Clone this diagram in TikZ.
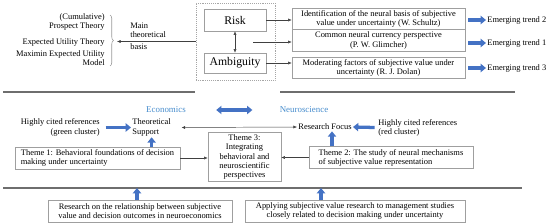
\documentclass[tikz,border=0pt]{standalone}
\usepackage{fontspec}
\setmainfont{Liberation Serif}
\usetikzlibrary{arrows.meta,calc,decorations.pathreplacing}

\definecolor{arrowblue}{RGB}{68,114,196}
\definecolor{headblue}{RGB}{70,140,205}
\definecolor{rulegray}{RGB}{110,110,110}

\begin{document}
\begin{tikzpicture}[x=0.03cm,y=-0.03cm,>={Latex[length=3pt,width=2.6pt]}]

% ---------- styles ----------
\tikzset{
  txt/.style={font=\rmfamily\fontsize{7.2}{7.8}\selectfont, inner sep=1pt},
  boxed/.style={txt, draw=gray!75, line width=0.5pt, inner sep=2pt},
  bigtxt/.style={font=\rmfamily\fontsize{10}{12}\selectfont},
  link/.style={->, line width=0.4pt, draw=black!75},
  fat/.style={line width=2.8pt, draw=arrowblue, -{Triangle[length=4.5pt,width=7pt]}},
  fatboth/.style={line width=2.8pt, draw=arrowblue, {Triangle[length=4.5pt,width=7pt]}-{Triangle[length=4.5pt,width=7pt]}},
  sepline/.style={line width=0.9pt, draw=rulegray}
}

\useasboundingbox (0,0) rectangle (550,223);

% ---------- top: risk and ambiguity ----------
\node[draw=gray!70, densely dotted, line width=0.6pt, minimum width=2.37cm, minimum height=2.31cm] (cat) at (235.5,41.5) {};
\node[boxed, bigtxt, minimum width=1.86cm, minimum height=0.66cm] (risk) at (235,20) {Risk};
\node[boxed, bigtxt, minimum width=1.86cm, minimum height=0.6cm] (ambi) at (235,63) {Ambiguity};
\draw[<->, line width=0.4pt, draw=black!75] (risk) -- (ambi);
\coordinate (mid) at (253,42);

% theories on the left
\node[txt, align=right, anchor=east] (thA) at (106,22) {(Cumulative)\\Prospect Theory};
\node[txt, anchor=east] (thB) at (106,42) {Expected Utility Theory};
\node[txt, align=right, anchor=east] (thC) at (106,58) {Maximin Expected Utility\\Model};
\draw[draw=gray!80, line width=0.5pt, decorate, decoration={brace, amplitude=3pt}] (110,15) -- (110,66);
\coordinate (tip) at (117,40);
\draw[link] (cat.west) -- (tip |- cat.west);
\node[txt, align=left, anchor=west] (mainA) at (129,30) {Main\\theoretical};
\node[txt, anchor=west] (mainB) at (129,47) {basis};

% perspectives on the right
\node[boxed, align=center, minimum width=5.19cm, minimum height=0.6cm] (b1) at (378.5,19) {Identification of the neural basis of subjective\\value under uncertainty (W. Schultz)};
\node[boxed, align=center, minimum width=5.19cm, minimum height=0.57cm] (b2) at (378.5,40.5) {Common neural currency perspective\\(P. W. Glimcher)};
\node[boxed, align=center, minimum width=5.19cm, minimum height=0.6cm] (b3) at (378.5,68) {Moderating factors of subjective value under\\uncertainty (R. J. Dolan)};
\draw[link] (risk.east) -- (risk.east -| b1.west);
\draw[link] (mid) -- (mid -| b2.west);
\draw[link] (ambi.east) -- (ambi.east -| b3.west);

\node[txt, anchor=west] (tr2) at (486,20) {Emerging trend 2};
\node[txt, anchor=west] (tr1) at (486,43) {Emerging trend 1};
\node[txt, anchor=west] (tr3) at (486,68) {Emerging trend 3};
\draw[fat] ($(b1.east |- tr2)+(3,0)$) -- (tr2.west);
\draw[fat] ($(b2.east |- tr1)+(3,0)$) -- (tr1.west);
\draw[fat] ($(b3.east |- tr3)+(3,0)$) -- (tr3.west);

% ---------- middle: economics and neuroscience ----------
\draw[sepline] (3,92) -- (195,92);
\draw[sepline] (280,92) -- (515,92);

\node[txt, text=headblue, font=\rmfamily\fontsize{7.6}{9}\selectfont] (econ) at (166,110) {Economics};
\node[txt, text=headblue, font=\rmfamily\fontsize{7.6}{9}\selectfont] (neuro) at (304,110) {Neuroscience};
\draw[fatboth] ($(econ.east)+(29,0)$) -- ($(neuro.west)+(-26,0)$);

\node[txt, align=right, anchor=east] (hcg) at (101,127.5) {Highly cited references\\(green cluster)};
\node[txt, align=left, anchor=west] (theo) at (131,127.5) {Theoretical\\Support};
\draw[fat] ([xshift=4pt]hcg.east) -- (theo.west);

\node[txt] (rf) at (325,127) {Research Focus};
\node[txt, align=left, anchor=west] (hcr) at (377,127.5) {Highly cited references\\(red cluster)};
\draw[fat] ([xshift=-2pt]hcr.west) -- (rf.east);
\draw[<->, line width=0.4pt, draw=black!75] ([xshift=8pt]theo.east) -- (rf.west);

\node[boxed, align=left, minimum width=4.95cm, minimum height=0.6cm] (t1) at (97.5,158) {Theme 1: Behavioral foundations of decision\\making under uncertainty};
\node[boxed, align=center, minimum width=2.19cm, minimum height=1.44cm] (t3) at (244.5,157) {Theme 3:\\Integrating\\behavioral and\\neuroscientific\\perspectives};
\node[boxed, align=left, minimum width=4.92cm, minimum height=0.63cm] (t2) at (391,157.5) {Theme 2: The study of neural mechanisms\\of subjective value representation};
\draw[link] (t1.east) -- (t1.east -| t3.west);
\draw[link] (t2.west) -- (t2.west -| t3.east);
\draw[fat] (theo.south |- t1.north) -- (theo.south);
\draw[fat] ($(rf.south |- t2.north)+(7,0)$) -- ($(rf.south)+(7,0)$);

% ---------- bottom: future directions ----------
\coordinate (lineL) at (3,188);
\coordinate (lineR) at (522,188);
\draw[sepline] (lineL) -- (lineR);

\node[boxed, align=center, minimum width=5.52cm, minimum height=0.66cm] (r1) at (140,211) {Research on the relationship between subjective\\value and decision outcomes in neuroeconomics};
\node[boxed, align=center, minimum width=6.6cm, minimum height=0.66cm] (r2) at (355,211) {Applying subjective value research to management studies\\closely related to decision making under uncertainty};
\draw[fat] ($(r1.north)+(-3,0)$) -- ($(r1.north |- lineL)+(-3,0)$);
\draw[fat] ($(r2.north)+(-34,0)$) -- ($(r2.north |- lineL)+(-34,0)$);

\end{tikzpicture}
\end{document}
